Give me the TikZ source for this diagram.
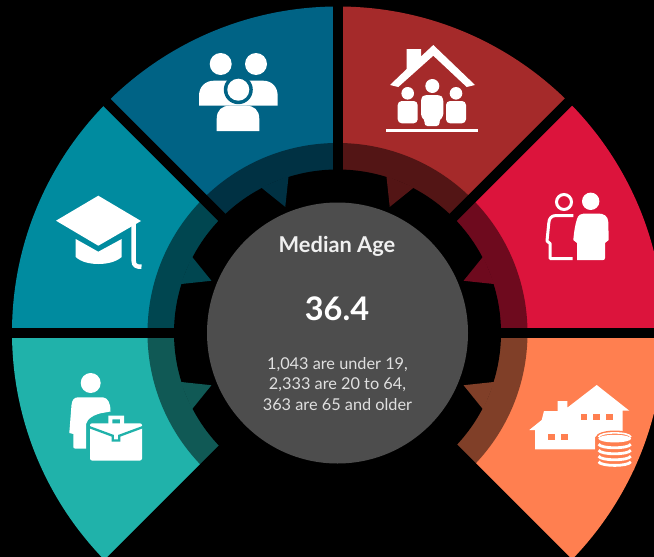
\documentclass[tikz,border=0pt]{standalone}
\usepackage{fontspec}
\setmainfont{Lato}
\definecolor{cblue}{HTML}{006385}
\definecolor{cred}{HTML}{A52A2A}
\definecolor{ccrim}{HTML}{DC143C}
\definecolor{ccoral}{HTML}{FF7F50}
\definecolor{csea}{HTML}{20B2AA}
\definecolor{cteal}{HTML}{008B9F}
\definecolor{hub}{HTML}{4D4D4D}
\tikzset{
  ink/.style={fill=white,draw=none},
  gapline/.style={draw=black,line width=10pt},
  title/.style={anchor=base,text=white!94!black,font=\fontsize{21.8}{24}\selectfont\bfseries},
  big/.style={anchor=base,text=white,font=\fontsize{32.5}{36}\selectfont\bfseries},
  small/.style={anchor=base,text=white!88!black,font=\fontsize{16.3}{18}\selectfont},
}
\begin{document}
\begin{tikzpicture}[x=1pt,y=1pt,yscale=-1]
\useasboundingbox (0,0) rectangle (654,557);
\fill[black] (0,0) rectangle (654,557);
\clip (0,0) rectangle (654,557);
% wheel (y up, angles as on screen)
\begin{scope}[shift={(337.5,333)},yscale=-1]
  \foreach \a/\m/\b/\c in {90/112.5/135/cblue,45/67.5/90/cred,0/22.5/45/ccrim,-45/-22.5/0/ccoral,180/202.5/225/csea,135/157.5/180/cteal}{
    \begin{scope}
      \clip (0,0) -- (\a:700) -- (\m:700) -- (\b:700) -- cycle;
      \fill[\c] (0.5,0.5) circle[radius=326];
      \fill[\c!50!black] (0,0) circle[radius=190];
      \fill[black] (0,0) circle[radius=163.5];
      \fill[\c!50!black] (\m-5.2:164.5) -- (\m:136.5) -- (\m+5.2:164.5) -- cycle;
    \end{scope}
  }
  \foreach \k in {0,45,90,135,180}{
    \draw[gapline] (0,0) -- (\k:345);
  }
  \draw[gapline] (1,0) -- ++(225:345);
  \draw[gapline] (1,0) -- ++(-45:345);
  \fill[hub] (0,0) circle[radius=130.5];
\end{scope}
% centre text
\node[title] (tMedian) at (337,252.5) {Median Age};
\node[big] (tValue) at (337,320) {36.4};
\node[small] (tLineA) at (337.5,369) {1,043 are under 19,};
\node[small] (tLineB) at (337.5,389) {2,333 are 20 to 64,};
\node[small] (tLineC) at (337.5,410) {363 are 65 and older};
% icon: three people
\fill[ink] (220.7,64) circle[radius=11];
\fill[ink] (256,64) circle[radius=11];
\fill[ink] (199,105.7) -- (199,96) .. controls (199,87) and (205,80.7) .. (214,80.7) -- (263,80.7) .. controls (272,80.7) and (277.7,87) .. (277.7,96) -- (277.7,105.7) -- cycle;
\fill[cblue] (238.3,89.7) circle[radius=14.5];
\fill[ink] (238.3,89.7) circle[radius=11];
\fill[ink] (216.7,131) -- (216.7,119) .. controls (216.7,110) and (222,105.7) .. (230,105.7) -- (246,105.7) .. controls (254,105.7) and (259.3,110) .. (259.3,119) -- (259.3,131) -- cycle;
% icon: house with family
\fill[ink] (390,85) -- (406.7,69) -- (406.7,49) -- (421,49) -- (421,56.5) -- (433.3,45) -- (475,85) -- (466.7,87) -- (433.3,55.7) -- (398.3,87) -- cycle;
\fill[ink] (386,129) rectangle (477.7,131.7);
\fill[ink] (432.3,86) circle[radius=7];
\fill[ink,rounded corners=3pt] (421,98) -- (424,95) -- (440,95) -- (443.3,98) -- (443.3,117) -- (439.5,119) -- (439.5,126) -- (424.5,126) -- (424.5,119) -- (421,117) -- cycle;
\fill[ink] (407.7,93.3) circle[radius=6.3];
\fill[ink] (456,93.3) circle[radius=6.3];
\fill[ink,rounded corners=4pt] (397.7,101) rectangle (417.7,123.3);
\fill[ink,rounded corners=4pt] (446,101) rectangle (466,123.3);
% icon: graduation cap
\fill[ink] (98.3,195.7) -- (141,221) -- (98.3,245.7) -- (56,220.7) -- cycle;
\fill[ink] (75.7,239) -- (98.3,251.7) -- (121.7,239) -- (121.7,257) .. controls (116,262) and (107,264) .. (98.3,264) .. controls (90,264) and (81,262) .. (75.7,257) -- cycle;
\draw[white,line width=4.5pt] (133.7,224) -- (133.7,261) .. controls (133.7,265) and (136,267) .. (141.5,266.7);
% icon: elderly couple
\draw[white,line width=3pt] (564,202) circle[radius=7.5];
\fill[ink] (590.7,201.3) circle[radius=8.7];
\fill[ink] (577,260) -- (577,243) -- (573.3,240) .. controls (574,232) and (575,225) .. (577,219) .. controls (578,215) and (581,213.5) .. (584,213.5) -- (598,213.5) .. controls (604,213.5) and (608,216) .. (608.3,222) -- (608.7,240) -- (605,243) -- (605,258) .. controls (605,259.5) and (604,260) .. (603,260) -- cycle;
\draw[white,line width=3pt,line join=round] (573.3,215.5) -- (556,215.5) .. controls (551,215.5) and (549,219) .. (548.8,223) -- (547,241) -- (550,243.5) -- (550,258.5) -- (572.7,258.5);
% icon: person with briefcase
\fill[ink] (90.7,383) circle[radius=10];
\fill[ink] (78,397.3) -- (103,397.3) .. controls (108,398) and (110.5,403) .. (110.5,411.5) -- (104,412.7) .. controls (95,414) and (91,417) .. (88,420) -- (86,424) -- (86,448.5) -- (75,448.5) .. controls (73.5,448.5) and (73.3,448) .. (73.3,446) -- (73.3,434) -- (69.3,433) -- (71.5,405) .. controls (72,400) and (74,397.5) .. (78,397.3) -- cycle;
\fill[ink,even odd rule] (108.3,415.7) rectangle (124,424) (112.3,419.3) rectangle (120,424);
\fill[ink,rounded corners=2pt] (90,423.3) rectangle (142,460.5);
\draw[csea,line width=2.3pt] (89,427) -- (112.8,435.8) -- (112.8,440.5) -- (119.2,440.5) -- (119.2,435.8) -- (143,427);
% icon: farmhouse with coins
\fill[ink] (596.7,385) -- (629.3,410.7) -- (622.7,410.7) -- (622.7,434) -- (600,434) -- (595,437) -- (595,449.3) -- (535,449.3) -- (535,430) -- (529.3,430) -- (541.7,420) -- (544,411) -- (557.7,411) -- (557.7,401) -- (567.3,401) -- (567.3,407.7) -- cycle;
\foreach \x in {580.7,593.3,606.3}{\fill[ccoral] (\x,414.3) rectangle ++(6.7,6);}
\foreach \x in {548,561}{\fill[ccoral] (\x,433.7) rectangle ++(6.7,6);}
\fill[ccoral] (595.5,438) .. controls (595.5,428) and (634,428) .. (634,438) -- (634,470) -- (595.5,470) -- cycle;
\draw[white,line width=1.6pt] (598.5,437) .. controls (600,431.5) and (629.5,431.5) .. (631,437);
\fill[ink] (614.7,438.6) ellipse[x radius=16.4,y radius=3.8];
\foreach \y in {444.2,450.2,456.2,461.8}{
  \draw[white,line width=2.8pt] (598.6,\y) .. controls (601,\y+4.8) and (628.4,\y+4.8) .. (630.8,\y);
}
\end{tikzpicture}
\end{document}
